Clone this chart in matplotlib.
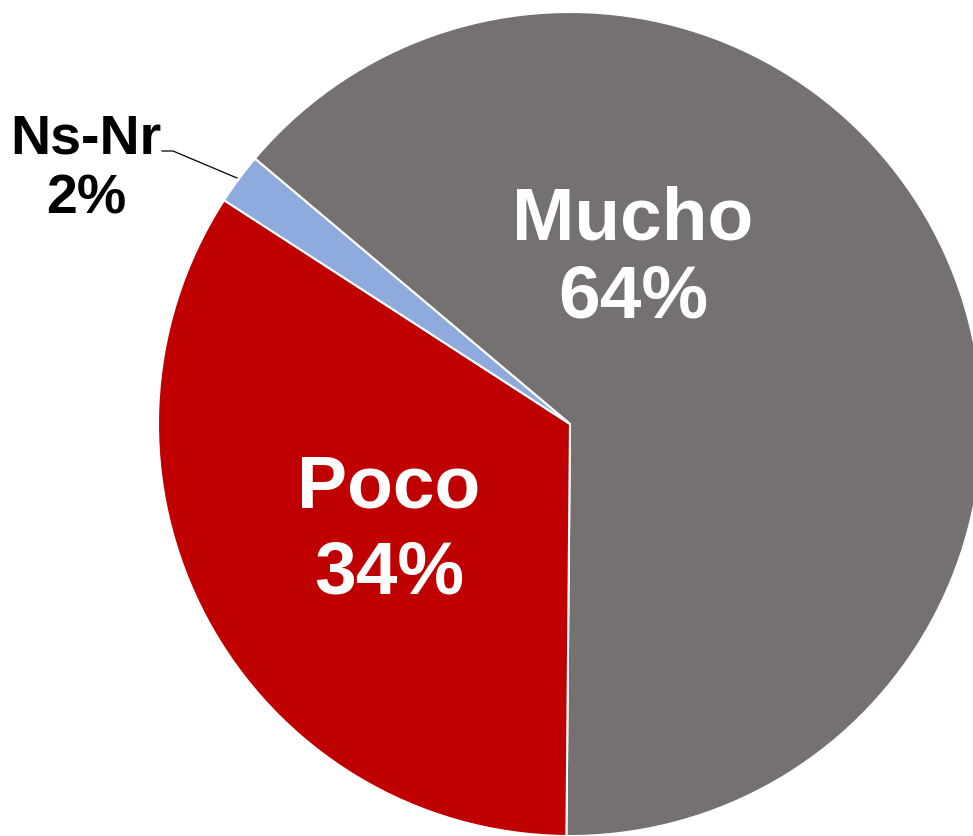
import matplotlib
matplotlib.use("Agg")
import matplotlib.pyplot as plt

categories = ["Mucho", "Poco", "Ns-Nr"]
values = [64, 34, 2]
colors = ["#767171", "#C00000", "#8FAADC"]

W, H = 973, 837
fig = plt.figure(figsize=(W / 100, H / 100), dpi=100)
ax = fig.add_axes([0, 0, 1, 1])

cx, cy, r = 570, H - 425, 412
ax.pie(values, colors=colors, startangle=139.9, counterclock=False,
       center=(cx, cy), radius=r, frame=True,
       wedgeprops=dict(edgecolor="white", linewidth=1.5))
ax.set_xlim(0, W)
ax.set_ylim(0, H)
ax.set_aspect("equal")
ax.axis("off")

font = dict(family=["Liberation Sans", "DejaVu Sans"], weight="bold")

def lab(x, y, s, size, color):
    ax.text(x, H - y, s, ha="center", va="baseline", fontsize=size, color=color, **font)

lab(633, 239, categories[0], 54, "white")
lab(633, 317, f"{values[0]}%", 54, "white")
lab(389, 508, categories[1], 54, "white")
lab(389, 593, f"{values[1]}%", 54, "white")
lab(86, 153, categories[2], 40, "black")
lab(86, 213, f"{values[2]}%", 40, "black")

ax.plot([162, 173, 237], [H - 152, H - 152, H - 179], color="black", linewidth=0.9)

fig.savefig("out.png", dpi=100)
